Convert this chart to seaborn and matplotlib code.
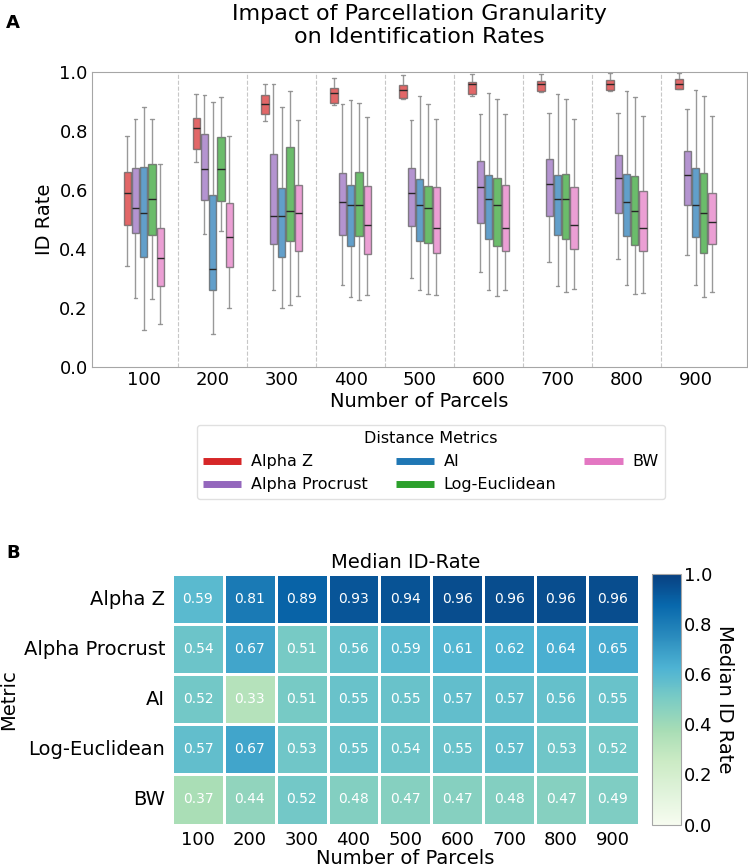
import pandas as pd
import matplotlib
matplotlib.use("Agg")
import matplotlib.pyplot as plt
import seaborn as sns
from matplotlib.lines import Line2D

metrics = ["Alpha Z", "Alpha Procrust", "AI", "Log-Euclidean", "BW"]
parcels = [100, 200, 300, 400, 500, 600, 700, 800, 900]
colors = ["#d62728", "#9467bd", "#1f77b4", "#2ca02c", "#e377c2"]

# median ID rate per metric (rows) and parcel count (columns)
medians = [
    [0.59, 0.81, 0.89, 0.93, 0.94, 0.96, 0.96, 0.96, 0.96],
    [0.54, 0.67, 0.51, 0.56, 0.59, 0.61, 0.62, 0.64, 0.65],
    [0.52, 0.33, 0.51, 0.55, 0.55, 0.57, 0.57, 0.56, 0.55],
    [0.57, 0.67, 0.53, 0.55, 0.54, 0.55, 0.57, 0.53, 0.52],
    [0.37, 0.44, 0.52, 0.48, 0.47, 0.47, 0.48, 0.47, 0.49],
]
q1 = [
    [0.482, 0.739, 0.858, 0.896, 0.910, 0.925, 0.934, 0.939, 0.943],
    [0.454, 0.564, 0.417, 0.448, 0.476, 0.486, 0.513, 0.523, 0.547],
    [0.373, 0.261, 0.373, 0.410, 0.428, 0.432, 0.447, 0.442, 0.439],
    [0.446, 0.563, 0.428, 0.445, 0.419, 0.410, 0.432, 0.414, 0.387],
    [0.275, 0.339, 0.394, 0.381, 0.385, 0.392, 0.401, 0.394, 0.415],
]
q3 = [
    [0.659, 0.843, 0.923, 0.946, 0.957, 0.965, 0.969, 0.973, 0.976],
    [0.674, 0.789, 0.721, 0.656, 0.673, 0.699, 0.704, 0.717, 0.732],
    [0.679, 0.582, 0.605, 0.616, 0.636, 0.650, 0.649, 0.654, 0.674],
    [0.687, 0.779, 0.745, 0.659, 0.613, 0.640, 0.653, 0.648, 0.656],
    [0.472, 0.555, 0.615, 0.612, 0.611, 0.615, 0.610, 0.595, 0.591],
]
whisker_low = [
    [0.342, 0.694, 0.833, 0.889, 0.908, 0.920, 0.932, 0.937, 0.941],
    [0.233, 0.452, 0.259, 0.278, 0.302, 0.320, 0.356, 0.364, 0.379],
    [0.123, 0.111, 0.200, 0.237, 0.260, 0.261, 0.275, 0.278, 0.278],
    [0.230, 0.459, 0.210, 0.226, 0.247, 0.241, 0.252, 0.247, 0.237],
    [0.146, 0.200, 0.241, 0.245, 0.244, 0.260, 0.263, 0.249, 0.254],
]
whisker_high = [
    [0.784, 0.925, 0.959, 0.981, 0.988, 0.992, 0.993, 0.997, 0.997],
    [0.842, 0.922, 0.959, 0.892, 0.837, 0.858, 0.860, 0.862, 0.874],
    [0.880, 0.897, 0.881, 0.905, 0.917, 0.928, 0.925, 0.935, 0.939],
    [0.840, 0.915, 0.935, 0.894, 0.891, 0.908, 0.908, 0.915, 0.918],
    [0.687, 0.784, 0.837, 0.846, 0.840, 0.858, 0.842, 0.849, 0.849],
]


def build_long_table():
    rows = []
    for i, metric in enumerate(metrics):
        for j, parcel in enumerate(parcels):
            stats = (whisker_low[i][j], q1[i][j], medians[i][j], q3[i][j], whisker_high[i][j])
            for v in stats:
                rows.append({"Parcels": parcel, "Metric": metric, "ID Rate": v})
    return pd.DataFrame(rows)


def plot_boxes(fig, ax, df):
    palette = dict(zip(metrics, colors))
    sns.boxplot(
        data=df, x="Parcels", y="ID Rate", hue="Metric", hue_order=metrics,
        palette=palette, saturation=1, width=0.6, gap=0.12, whis=(0, 100),
        showfliers=False, linewidth=1, linecolor="0.35", legend=False, ax=ax,
        boxprops={"alpha": 0.7},
        whiskerprops={"color": "0.5", "alpha": 0.8},
        capprops={"color": "0.5", "alpha": 0.8},
        medianprops={"color": "0.15"},
    )
    for k in range(len(parcels) - 1):
        ax.axvline(k + 0.5, color="0.78", ls="--", lw=0.8, zorder=0)

    ax.set_xlim(-0.75, len(parcels) - 0.25)
    ax.set_ylim(0, 1)
    ax.set_yticks([0.0, 0.2, 0.4, 0.6, 0.8, 1.0])
    ax.tick_params(length=0, labelsize=13, pad=3)
    ax.set_xlabel("Number of Parcels", fontsize=14, labelpad=2)
    ax.set_ylabel("ID Rate", fontsize=14)
    ax.set_title("Impact of Parcellation Granularity\non Identification Rates",
                 fontsize=16, pad=21)
    for s in ax.spines.values():
        s.set_color("0.65")
    ax.grid(False)

    handles = [Line2D([0], [0], color=c, lw=5, solid_capstyle="butt") for c in colors]
    fig.legend(handles, metrics, title="Distance Metrics", ncol=3,
               loc="upper center", bbox_to_anchor=(0.576, 0.519),
               fontsize=11.5, title_fontsize=11.5, handlelength=2.4,
               handletextpad=0.6, columnspacing=1.75, edgecolor="0.85")


def plot_heatmap(hax, cax):
    med_df = pd.DataFrame(medians, index=metrics, columns=parcels)
    sns.heatmap(
        med_df, ax=hax, cbar_ax=cax, cmap="GnBu", vmin=0, vmax=1,
        annot=True, fmt=".2f", annot_kws={"color": "white", "fontsize": 10},
        linewidths=2, linecolor="white",
    )
    hax.set_title("Median ID-Rate", fontsize=14, pad=4)
    hax.set_xlabel("Number of Parcels", fontsize=14, labelpad=0)
    hax.set_ylabel("Metric", fontsize=14)
    hax.tick_params(axis="y", labelsize=14, rotation=0, length=3, pad=2)
    hax.tick_params(axis="x", labelsize=13, rotation=0, length=3, pad=2)

    cbar = hax.collections[0].colorbar
    cbar.outline.set_linewidth(0.8)
    cbar.outline.set_edgecolor("0.65")
    cbar.ax.tick_params(labelsize=13, length=0, pad=2)
    cbar.set_label("Median ID Rate", fontsize=14, rotation=270, va="bottom", labelpad=2)


def main():
    sns.set_style("white")
    plt.rcParams.update({
        "text.color": "black",
        "axes.labelcolor": "black",
        "xtick.color": "black",
        "ytick.color": "black",
    })
    df = build_long_table()

    fig = plt.figure(figsize=(7.48, 8.67), dpi=100)
    ax = fig.add_axes([0.123, 0.577, 0.876, 0.340])
    hax = fig.add_axes([0.230, 0.049, 0.624, 0.289])
    cax = fig.add_axes([0.872, 0.049, 0.039, 0.289])

    plot_boxes(fig, ax, df)
    plot_heatmap(hax, cax)

    fig.text(0.008, 0.973, "A", fontsize=13, fontweight="bold", va="center")
    fig.text(0.008, 0.362, "B", fontsize=13, fontweight="bold", va="center")

    fig.savefig("out.png", dpi=100)


if __name__ == "__main__":
    main()
